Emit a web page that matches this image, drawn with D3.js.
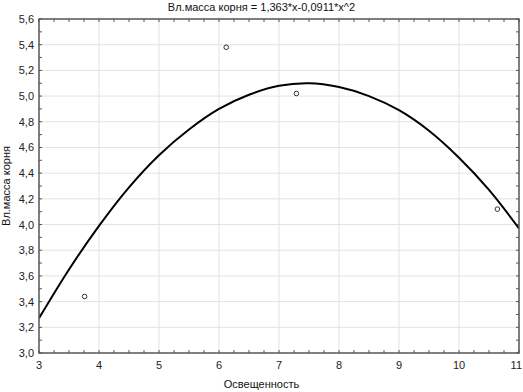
<!DOCTYPE html>
<html>
<head>
<meta charset="utf-8">
<script src="https://cdn.jsdelivr.net/npm/d3@7"></script>
<style>
  body { margin: 0; background: #fff; }
  svg { display: block; font-family: "Liberation Sans", Arial, sans-serif; }
</style>
</head>
<body>
<div id="chart"></div>
<script>
// observed points
const pointX = [3.76, 6.12, 7.29, 10.64];
const pointY = [3.44, 5.38, 5.02, 4.12];

// fitted curve every 0.5 units
const curveX = [3, 3.5, 4, 4.5, 5, 5.5, 6, 6.5, 7, 7.5, 8, 8.5, 9, 9.5, 10, 10.5, 11];
const curveY = [3.27, 3.65, 3.99, 4.29, 4.54, 4.74, 4.90, 5.01, 5.08, 5.10, 5.07, 5.00, 4.89, 4.73, 4.52, 4.27, 3.97];

const xTicks = [3, 4, 5, 6, 7, 8, 9, 10, 11];
const yTicks = [3.0, 3.2, 3.4, 3.6, 3.8, 4.0, 4.2, 4.4, 4.6, 4.8, 5.0, 5.2, 5.4, 5.6];

const titleText = "Вл.масса корня = 1,363*x-0,0911*x^2";
const xLabel = "Освещенность";
const yLabel = "Вл.масса корня";

const W = 523, H = 392;
const margin = { top: 19, right: 4, bottom: 39, left: 39 };
const width = W - margin.left - margin.right;
const height = H - margin.top - margin.bottom;

const svg = d3.select("#chart").append("svg")
    .attr("width", W)
    .attr("height", H);

const g = svg.append("g")
    .attr("transform", `translate(${margin.left},${margin.top})`);

const x = d3.scaleLinear().domain([3, 11]).range([0, width]);
const y = d3.scaleLinear().domain([3.0, 5.6]).range([height, 0]);

const comma = d => d3.format(".1f")(d).replace(".", ",");

// grid
g.append("g")
    .selectAll("line")
    .data(xTicks.slice(1, -1))
    .join("line")
    .attr("x1", d => x(d)).attr("x2", d => x(d))
    .attr("y1", 0).attr("y2", height)
    .attr("stroke", "#e3e3e3");

g.append("g")
    .selectAll("line")
    .data(yTicks.slice(1, -1))
    .join("line")
    .attr("y1", d => y(d)).attr("y2", d => y(d))
    .attr("x1", 0).attr("x2", width)
    .attr("stroke", "#e3e3e3");

// minor ticks inside the frame
const xMinor = d3.range(3, 11.001, 0.25);
const yMinor = d3.range(3.0, 5.601, 0.1);

[0, height].forEach(pos => {
    g.append("g")
        .selectAll("line")
        .data(xMinor)
        .join("line")
        .attr("x1", d => x(d)).attr("x2", d => x(d))
        .attr("y1", pos).attr("y2", pos === 0 ? 3 : height - 3)
        .attr("stroke", "#555");
});

[0, width].forEach(pos => {
    g.append("g")
        .selectAll("line")
        .data(yMinor)
        .join("line")
        .attr("y1", d => y(d)).attr("y2", d => y(d))
        .attr("x1", pos).attr("x2", pos === 0 ? 3 : width - 3)
        .attr("stroke", "#555");
});

// clip for the curve
svg.append("defs").append("clipPath")
    .attr("id", "plot-clip")
    .append("rect")
    .attr("width", width).attr("height", height);

const curveData = curveX.map((v, i) => ({ x: v, y: curveY[i] }));

g.append("path")
    .datum(curveData)
    .attr("clip-path", "url(#plot-clip)")
    .attr("fill", "none")
    .attr("stroke", "#000")
    .attr("stroke-width", 2)
    .attr("d", d3.line()
        .x(d => x(d.x))
        .y(d => y(d.y))
        .curve(d3.curveCatmullRom));

// points
g.selectAll(".dot")
    .data(pointX.map((v, i) => ({ x: v, y: pointY[i] })))
    .join("circle")
    .attr("class", "dot")
    .attr("cx", d => x(d.x))
    .attr("cy", d => y(d.y))
    .attr("r", 2.3)
    .attr("fill", "#fff")
    .attr("stroke", "#333")
    .attr("stroke-width", 1);

// frame
g.append("rect")
    .attr("width", width).attr("height", height)
    .attr("fill", "none")
    .attr("stroke", "#555")
    .attr("stroke-width", 1.5);

// tick labels (last one kept inside the window)
const lastX = xTicks[xTicks.length - 1];
g.append("g")
    .selectAll("text")
    .data(xTicks)
    .join("text")
    .attr("x", d => d === lastX ? W - margin.left - 1 : x(d))
    .attr("y", height + 16)
    .attr("text-anchor", d => d === lastX ? "end" : "middle")
    .attr("font-size", "11px")
    .attr("fill", "#222")
    .text(d => d);

g.append("g")
    .selectAll("text")
    .data(yTicks)
    .join("text")
    .attr("x", -5)
    .attr("y", d => y(d) + 4)
    .attr("text-anchor", "end")
    .attr("font-size", "11px")
    .attr("fill", "#222")
    .text(d => comma(d));

// title and axis labels
svg.append("text")
    .attr("x", W / 2)
    .attr("y", 11)
    .attr("text-anchor", "middle")
    .attr("font-size", "11px")
    .attr("fill", "#111")
    .text(titleText);

svg.append("text")
    .attr("x", W / 2)
    .attr("y", 388)
    .attr("text-anchor", "middle")
    .attr("font-size", "11px")
    .attr("fill", "#111")
    .text(xLabel);

svg.append("text")
    .attr("transform", `translate(10,${margin.top + height / 2}) rotate(-90)`)
    .attr("text-anchor", "middle")
    .attr("font-size", "11px")
    .attr("fill", "#111")
    .text(yLabel);
</script>
</body>
</html>
